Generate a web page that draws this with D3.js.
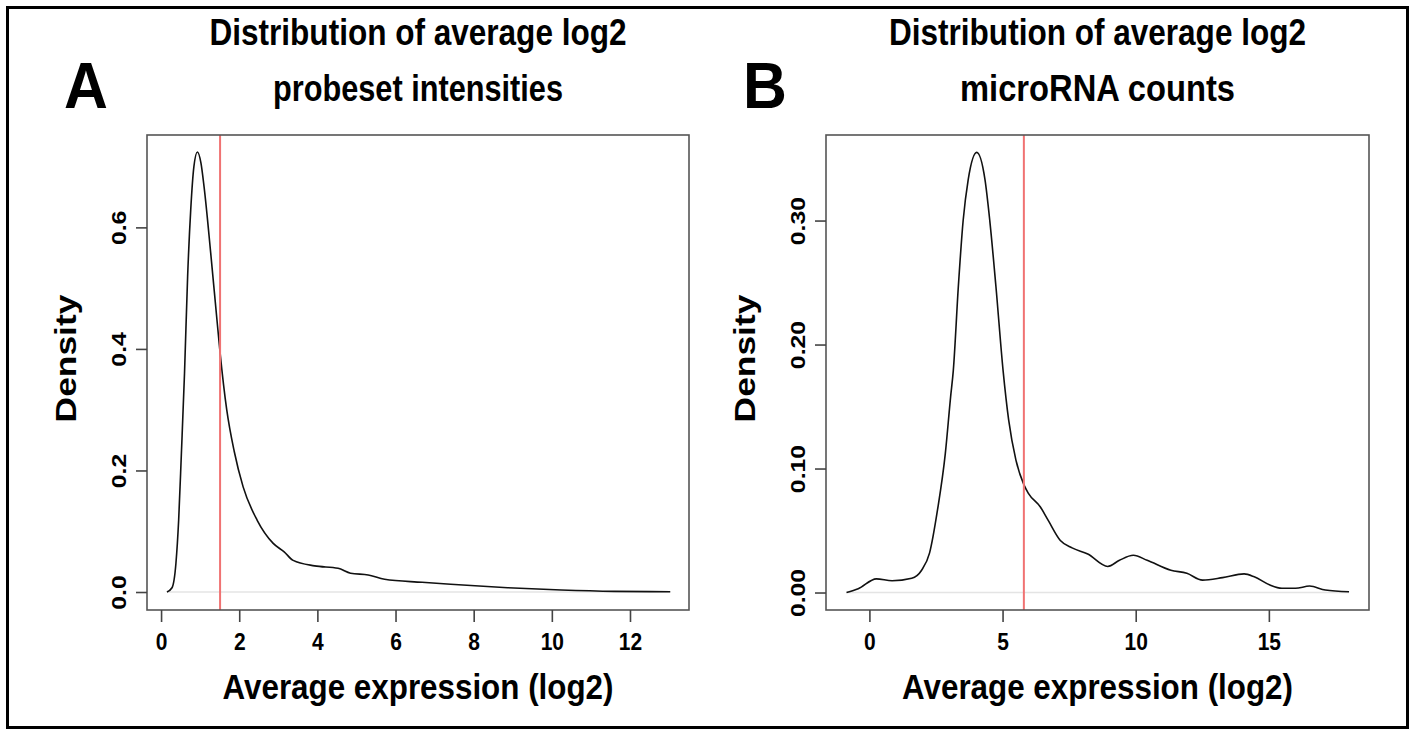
<!DOCTYPE html>
<html>
<head>
<meta charset="utf-8">
<script src="https://cdn.jsdelivr.net/npm/d3@7"></script>
<style>
  body { margin: 0; background: #fff; }
  text { font-family: "Liberation Sans", Arial, Helvetica, sans-serif; font-weight: bold; fill: #000; }
</style>
</head>
<body>
<div id="chart"></div>
<script>
// panel A: density of average log2 probeset intensities
var xA = [0.15, 0.28, 0.38, 0.45, 0.52, 0.60, 0.68, 0.76, 0.84, 0.93, 1.02, 1.10, 1.27, 1.43, 1.51, 1.68, 1.87, 2.10, 2.46, 2.87, 3.15, 3.38, 3.93, 4.53, 4.85, 5.30, 5.72, 6.68, 7.41, 8.87, 10.24, 11.61, 13.03];
var yA = [0.000, 0.007, 0.047, 0.118, 0.228, 0.360, 0.520, 0.630, 0.700, 0.724, 0.706, 0.667, 0.558, 0.448, 0.394, 0.300, 0.232, 0.173, 0.118, 0.080, 0.066, 0.052, 0.043, 0.039, 0.031, 0.028, 0.021, 0.016, 0.0127, 0.0071, 0.0033, 0.0011, 0.0005];
var cutA = 1.51;
var xTicksA = [0, 2, 4, 6, 8, 10, 12];
var yTicksA = [0, 0.2, 0.4, 0.6];
var yLabelsA = ["0.0", "0.2", "0.4", "0.6"];

// panel B: density of average log2 microRNA counts
var xB = [-0.86, -0.42, 0.26, 0.85, 1.59, 1.96, 2.26, 2.56, 2.85, 3.05, 3.15, 3.34, 3.52, 3.71, 4.03, 4.34, 4.52, 4.75, 5.02, 5.23, 5.50, 5.80, 5.97, 6.42, 6.72, 7.17, 7.61, 8.20, 8.95, 9.39, 9.91, 10.43, 11.32, 11.92, 12.51, 13.26, 14.07, 14.45, 15.04, 15.49, 16.0, 16.53, 17.12, 18.01];
var yB = [0.000, 0.003, 0.011, 0.0095, 0.0115, 0.018, 0.032, 0.067, 0.112, 0.158, 0.179, 0.247, 0.300, 0.333, 0.355, 0.333, 0.300, 0.247, 0.179, 0.139, 0.107, 0.087, 0.080, 0.069, 0.058, 0.042, 0.036, 0.031, 0.021, 0.026, 0.030, 0.026, 0.018, 0.0155, 0.010, 0.012, 0.015, 0.0127, 0.006, 0.0034, 0.0034, 0.0052, 0.002, 0.0006];
var cutB = 5.80;
var xTicksB = [0, 5, 10, 15];
var yTicksB = [0, 0.1, 0.2, 0.3];
var yLabelsB = ["0.00", "0.10", "0.20", "0.30"];

var W = 1419, H = 730;
var stretch = 1.18; // the figure's text looks stretched vertically

var svg = d3.select("#chart").append("svg")
  .attr("width", W)
  .attr("height", H);

// outer frame
svg.append("rect")
  .attr("x", 7.5).attr("y", 7.5)
  .attr("width", 1400).attr("height", 720)
  .style("fill", "none")
  .style("stroke", "#000")
  .style("stroke-width", 3);

function label(g, x, y, size, txt, len) {
  var t = g.append("text")
    .attr("transform", "translate(" + x + "," + y + ") scale(1," + stretch + ")")
    .attr("text-anchor", "middle")
    .style("font-size", size + "px")
    .text(txt);
  if (len) t.attr("textLength", len).attr("lengthAdjust", "spacingAndGlyphs");
  return t;
}

function panel(opt) {
  var box = opt.box;
  var xScale = d3.scaleLinear().domain(opt.xDomain).range([box.left, box.right]);
  var yScale = d3.scaleLinear().domain(opt.yDomain).range([box.bottom, box.top]);
  var pts = opt.xs.map(function(x, i) { return [x, opt.ys[i]]; });
  var g = svg.append("g");

  // zero line
  g.append("line")
    .attr("x1", xScale(opt.xs[0])).attr("x2", xScale(opt.xs[opt.xs.length - 1]))
    .attr("y1", yScale(0)).attr("y2", yScale(0))
    .style("stroke", "#e4e4e4")
    .style("stroke-width", 1.5);

  // density curve
  var line = d3.line()
    .curve(d3.curveMonotoneX)
    .x(function(d) { return xScale(d[0]); })
    .y(function(d) { return yScale(d[1]); });

  g.append("path")
    .datum(pts)
    .attr("d", line)
    .style("fill", "none")
    .style("stroke", "#111")
    .style("stroke-width", 1.6);

  // cut-off line
  g.append("line")
    .attr("x1", xScale(opt.cut)).attr("x2", xScale(opt.cut))
    .attr("y1", box.top).attr("y2", box.bottom)
    .style("stroke", "#f07272")
    .style("stroke-width", 2);

  // box
  g.append("rect")
    .attr("x", box.left).attr("y", box.top)
    .attr("width", box.right - box.left).attr("height", box.bottom - box.top)
    .style("fill", "none")
    .style("stroke", "#555")
    .style("stroke-width", 1.6);

  // x axis
  var xAxis = g.append("g")
    .attr("transform", "translate(0," + box.bottom + ")")
    .call(d3.axisBottom(xScale).tickValues(opt.xTicks).tickSize(12).tickFormat(d3.format("d")));
  xAxis.select(".domain").remove();
  xAxis.selectAll("line").style("stroke", "#444").style("stroke-width", 1.6);
  xAxis.selectAll("text")
    .attr("y", 0).attr("dy", 0)
    .attr("transform", "translate(0,40) scale(1," + stretch + ")")
    .style("font-size", "21px")
    .style("font-family", '"Liberation Sans", Arial, sans-serif')
    .style("font-weight", "bold")
    .attr("fill", "#000");

  // y axis
  var yAxis = g.append("g")
    .attr("transform", "translate(" + box.left + ",0)")
    .call(d3.axisLeft(yScale).tickValues(opt.yTicks).tickSize(11)
      .tickFormat(function(d, i) { return opt.yLabels[i]; }));
  yAxis.select(".domain").remove();
  yAxis.selectAll("line").style("stroke", "#444").style("stroke-width", 1.6);
  yAxis.selectAll("text")
    .attr("x", 0).attr("dy", 0)
    .attr("transform", "translate(-21,0) rotate(-90) scale(" + stretch + ",1)")
    .style("text-anchor", "middle")
    .style("font-size", "21px")
    .style("font-family", '"Liberation Sans", Arial, sans-serif')
    .style("font-weight", "bold")
    .attr("fill", "#000");

  var cx = (box.left + box.right) / 2;
  var cy = (box.top + box.bottom) / 2 - 14;

  // titles
  label(g, cx, 45, 31, opt.title1, opt.t1Len);
  label(g, cx, 101, 31, opt.title2, opt.t2Len);

  // x label
  label(g, cx, 699, 30, "Average expression (log2)", 391);

  // y label
  g.append("text")
    .attr("transform", "translate(" + (box.left - 71) + "," + cy + ") rotate(-90) scale(" + stretch + ",1)")
    .attr("text-anchor", "middle")
    .style("font-size", "30px")
    .text("Density");

  // panel letter
  g.append("text")
    .attr("transform", "translate(" + opt.letterX + ",108) scale(0.95,1)")
    .style("font-size", "64px")
    .text(opt.letter);
}

panel({
  box: { left: 147, right: 689, top: 135, bottom: 610 },
  xDomain: [-0.36, 13.51], yDomain: [-0.0296, 0.752],
  xs: xA, ys: yA, cut: cutA,
  xTicks: xTicksA, yTicks: yTicksA, yLabels: yLabelsA,
  title1: "Distribution of average log2", title2: "probeset intensities",
  t1Len: 417, t2Len: 290,
  letter: "A", letterX: 64
});

panel({
  box: { left: 826, right: 1369, top: 135, bottom: 610 },
  xDomain: [-1.63, 18.76], yDomain: [-0.0141, 0.369],
  xs: xB, ys: yB, cut: cutB,
  xTicks: xTicksB, yTicks: yTicksB, yLabels: yLabelsB,
  title1: "Distribution of average log2", title2: "microRNA counts",
  t1Len: 417, t2Len: 275,
  letter: "B", letterX: 743
});
</script>
</body>
</html>
